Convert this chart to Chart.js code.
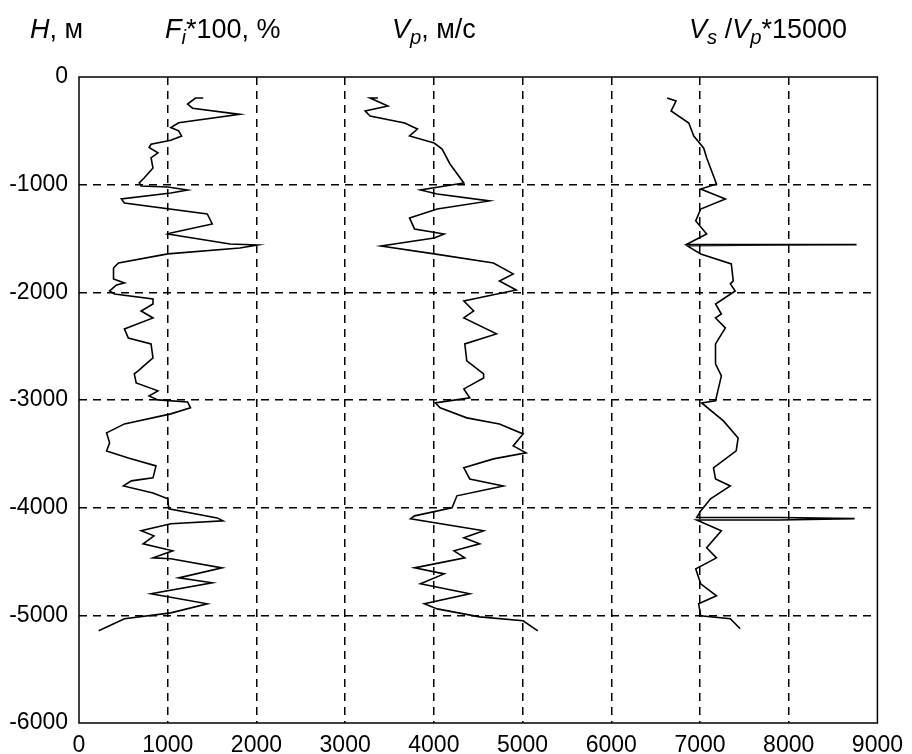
<!DOCTYPE html>
<html lang="ru">
<head>
    <meta charset="UTF-8">
    <title>H, Fi, Vp, Vs/Vp</title>
    <script src="https://cdn.jsdelivr.net/npm/chart.js@4.4.0/dist/chart.umd.min.js"></script>
    <style>
        body {
            margin: 0;
            background: #fff;
            font-family: 'Liberation Sans', Arial, sans-serif;
        }
        #play {
            position: relative;
            width: 912px;
            height: 754px;
        }
        .head {
            position: absolute;
            top: 16px;
            font-size: 27px;
            line-height: 27px;
            color: #000;
            white-space: nowrap;
        }
        .head sub {
            font-size: 0.75em;
            vertical-align: -0.3em;
            line-height: 0;
        }
    </style>
</head>
<body>
<div id="play">
    <canvas id="myChart" width="912" height="754"></canvas>
    <div class="head" style="left:30px"><i>H</i>, м</div>
    <div class="head" style="left:165px"><i>F<sub>i</sub></i>*100, %</div>
    <div class="head" style="left:392px"><i>V<sub>p</sub></i>, м/с</div>
    <div class="head" style="left:689px"><i>V<sub>s</sub></i> /<i>V<sub>p</sub></i>*15000</div>
</div>
<script>
    // оси
    const xTicks = [0, 1000, 2000, 3000, 4000, 5000, 6000, 7000, 8000, 9000];
    const yTicks = [0, -1000, -2000, -3000, -4000, -5000, -6000];

    // Fi*100, %
    const fDepth = [
        -195, -195, -251, -290, -347, -425, -470, -500, -548, -587,
        -625, -655, -705, -750, -845, -938, -984, -1012, -1021, -1049,
        -1077, -1133, -1170, -1272, -1365, -1449, -1458, -1551, -1560, -1588,
        -1643, -1727, -1774, -1876, -1913, -1931, -1987, -2015, -2061, -2108,
        -2173, -2238, -2340, -2424, -2479, -2609, -2665, -2730, -2758, -2841,
        -2915, -2962, -2999, -3018, -3073, -3129, -3222, -3305, -3398, -3473,
        -3538, -3612, -3723, -3751, -3798, -3863, -3918, -4011, -4095, -4123,
        -4150, -4215, -4262, -4336, -4401, -4466, -4475, -4559, -4652, -4698,
        -4800, -4893, -4977, -5032, -5144
    ];
    const fValue = [
        1401, 1313, 1224, 1280, 1813, 1123, 1035, 1123, 1157, 1035,
        812, 790, 890, 812, 834, 734, 679, 700, 1001, 1224,
        1035, 478, 512, 1446, 1502, 1035, 1001, 1702, 2013, 1813,
        1001, 445, 389, 389, 512, 423, 345, 400, 834, 834,
        700, 834, 512, 556, 812, 834, 756, 667, 623, 645,
        890, 790, 890, 1224, 1257, 1035, 512, 311, 345, 311,
        556, 868, 834, 590, 501, 834, 1001, 1012, 1557, 1624,
        1035, 700, 845, 723, 1057, 834, 1035, 1613, 1123, 1502,
        812, 1446, 1035, 512, 222
    ];

    // Vp, м/с
    const vpDepth = [
        -195, -195, -269, -316, -362, -427, -483, -548, -613, -669,
        -808, -984, -1049, -1086, -1151, -1226, -1309, -1411, -1458, -1495,
        -1569, -1643, -1727, -1829, -1894, -1978, -2080, -2173, -2238, -2386,
        -2479, -2637, -2758, -2795, -2897, -2980, -3027, -3073, -3166, -3222,
        -3315, -3426, -3491, -3547, -3630, -3733, -3798, -3890, -4002, -4076,
        -4104, -4215, -4280, -4336, -4401, -4466, -4559, -4615, -4707, -4800,
        -4893, -4940, -5014, -5051, -5144
    ];
    const vpValue = [
        3370, 3281, 3482, 3226, 3281, 3671, 3815, 3726, 4004, 4093,
        4182, 4338, 3849, 4038, 4627, 4038, 3726, 3782, 4116, 4004,
        3404, 4004, 4672, 4894, 4739, 4928, 4338, 4449, 4338, 4705,
        4349, 4371, 4561, 4561, 4338, 4405, 4016, 4071, 4371, 4739,
        5006, 4894, 5039, 4672, 4338, 4405, 4783, 4260, 4205, 3782,
        3737, 4561, 4338, 4516, 4227, 4349, 3782, 4116, 3849, 4405,
        3893, 4038, 4516, 5006, 5172
    ];

    // Vs/Vp*15000
    const vsDepth = [
        -195, -223, -316, -427, -548, -659, -750, -993, -1040, -1133,
        -1226, -1337, -1458, -1553, -1557, -1561, -1566, -1643, -1736, -1894,
        -1922, -1987, -2108, -2201, -2238, -2331, -2479, -2665, -2776, -3008,
        -3027, -3194, -3352, -3473, -3630, -3733, -3798, -3918, -4030, -4090,
        -4091, -4102, -4114, -4115, -4215, -4373, -4466, -4568, -4707, -4819,
        -4893, -5004, -5032, -5125
    ];
    const vsValue = [
        6630, 6730, 6674, 6874, 6930, 7041, 7075, 7186, 7008, 7286,
        7008, 6952, 7075, 6852, 8765, 7800, 6852, 7008, 7353, 7375,
        7342, 7397, 7175, 7241, 7175, 7286, 7175, 7175, 7241, 7175,
        7019, 7264, 7430, 7408, 7152, 7175, 7342, 7119, 7008, 6963,
        7900, 8743, 7900, 6963, 7241, 7075, 7186, 6952, 7008, 7186,
        6985, 7008, 7342, 7453
    ];

    function toPoints(values, depths) {
        return values.map((v, i) => ({x: v, y: depths[i]}));
    }

    function line(values, depths) {
        return {
            data: toPoints(values, depths),
            showLine: true,
            fill: false,
            borderColor: '#000',
            borderWidth: 1.6,
            pointRadius: 0,
            tension: 0
        };
    }

    // рамка вокруг поля графика
    const frame = {
        id: 'frame',
        afterDraw(chart) {
            const a = chart.chartArea;
            const ctx = chart.ctx;
            ctx.save();
            ctx.strokeStyle = '#000';
            ctx.lineWidth = 1.5;
            ctx.strokeRect(a.left, a.top, a.right - a.left, a.bottom - a.top);
            ctx.restore();
        }
    };

    const tickFont = {family: "'Liberation Sans', Arial", size: 23};

    const ctx = document.getElementById('myChart');
    new Chart(ctx, {
        type: 'scatter',
        data: {
            datasets: [line(fValue, fDepth), line(vpValue, vpDepth), line(vsValue, vsDepth)]
        },
        options: {
            responsive: false,
            animation: false,
            layout: {padding: {left: 0, top: 77, right: 25, bottom: 0}},
            scales: {
                x: {
                    type: 'linear',
                    min: xTicks[0],
                    max: xTicks[xTicks.length - 1],
                    afterBuildTicks: s => { s.ticks = xTicks.map(v => ({value: v})); },
                    afterFit: s => { s.height = 31; },
                    border: {display: false, dash: [8, 6]},
                    grid: {
                        drawTicks: false,
                        lineWidth: 1.5,
                        color: c => (c.tick && (c.tick.value === 0 || c.tick.value === 9000)) ? 'rgba(0,0,0,0)' : '#000'
                    },
                    ticks: {
                        color: '#000', font: tickFont, padding: 9, maxRotation: 0, autoSkip: false,
                        callback: v => String(v)
                    }
                },
                y: {
                    type: 'linear',
                    min: yTicks[yTicks.length - 1],
                    max: yTicks[0],
                    afterBuildTicks: s => { s.ticks = yTicks.slice().reverse().map(v => ({value: v})); },
                    afterFit: s => { s.width = 79; },
                    border: {display: false, dash: [8, 6]},
                    grid: {
                        drawTicks: false,
                        lineWidth: 1.5,
                        color: c => (c.tick && (c.tick.value === 0 || c.tick.value === -6000)) ? 'rgba(0,0,0,0)' : '#000'
                    },
                    ticks: {
                        color: '#000', font: tickFont, padding: 11, autoSkip: false,
                        callback: v => String(v)
                    }
                }
            },
            plugins: {
                legend: {display: false},
                tooltip: {enabled: false}
            }
        },
        plugins: [frame]
    });
</script>
</body>
</html>
